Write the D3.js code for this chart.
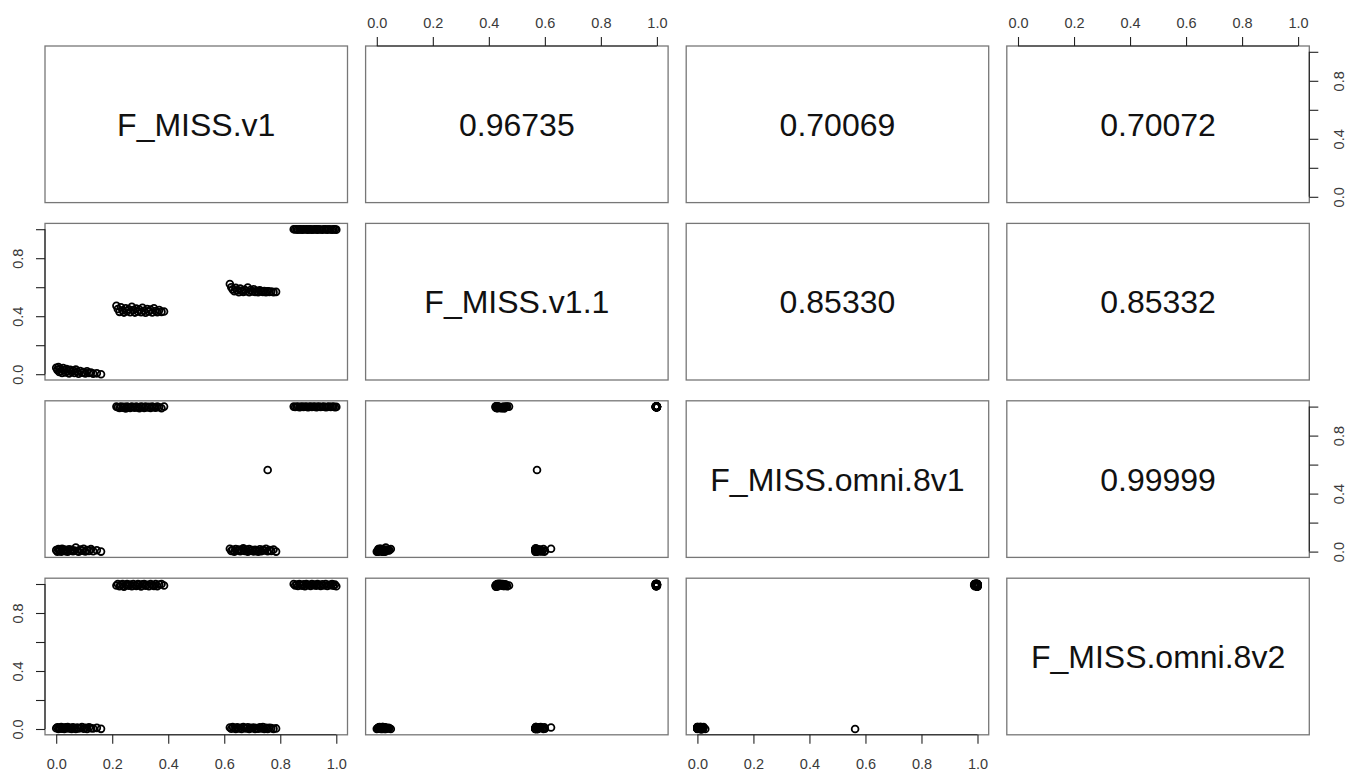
<!DOCTYPE html>
<html>
<head>
<meta charset="utf-8">
<script src="https://cdn.jsdelivr.net/npm/d3@7"></script>
<style>
  html, body { margin: 0; padding: 0; background: #fff; }
  svg { display: block; }
  text { font-family: "Liberation Sans", Arial, Helvetica, sans-serif; }
</style>
</head>
<body>
<svg id="chart" width="1359" height="775"></svg>
<script>
// Variable names shown on the diagonal
const varNames = ["F_MISS.v1", "F_MISS.v1.1", "F_MISS.omni.8v1", "F_MISS.omni.8v2"];

// Pairwise correlations printed in the upper panels: [row, col, label]
const corrCells = [
  [0, 1, "0.96735"], [0, 2, "0.70069"], [0, 3, "0.70072"],
  [1, 2, "0.85330"], [1, 3, "0.85332"],
  [2, 3, "0.99999"]
];

// Axis ticks
const tickValues = [0, 0.2, 0.4, 0.6, 0.8, 1.0];
const xTickLabels = ["0.0", "0.2", "0.4", "0.6", "0.8", "1.0"];
const yTickLabels = ["0.0", "", "0.4", "", "0.8", ""];

// Per-sample missingness for each variable (same sample order in every array)
const missV1 = [
  0.000, 0.004, 0.008, 0.011, 0.014, 0.018, 0.021, 0.025, 0.029, 0.033,
  0.037, 0.041, 0.046, 0.050, 0.055, 0.060, 0.065, 0.070, 0.075, 0.080,
  0.086, 0.092, 0.098, 0.104, 0.110, 0.117, 0.124, 0.132, 0.145, 0.160,
  0.215, 0.220, 0.226, 0.231, 0.237, 0.242, 0.248, 0.253, 0.259, 0.264,
  0.270, 0.275, 0.281, 0.286, 0.292, 0.297, 0.303, 0.308, 0.314, 0.319,
  0.325, 0.331, 0.337, 0.343, 0.349, 0.355, 0.361, 0.368, 0.376, 0.385,
  0.620, 0.625, 0.630, 0.636, 0.641, 0.646, 0.652, 0.657, 0.662, 0.668,
  0.673, 0.678, 0.684, 0.689, 0.694, 0.700, 0.705, 0.710, 0.716, 0.721,
  0.727, 0.732, 0.738, 0.743, 0.749, 0.755, 0.761, 0.768, 0.776, 0.785,
  0.848, 0.853, 0.858, 0.863, 0.868, 0.873, 0.878, 0.883, 0.888, 0.893,
  0.898, 0.903, 0.908, 0.913, 0.918, 0.923, 0.928, 0.933, 0.938, 0.944,
  0.950, 0.956, 0.962, 0.968, 0.974, 0.980, 0.985, 0.990, 0.995, 1.000,
  0.755
];
const missV11 = [
  0.045, 0.030, 0.050, 0.015, 0.038, 0.022, 0.008, 0.042, 0.028, 0.012,
  0.035, 0.020, 0.005, 0.030, 0.015, 0.025, 0.008, 0.032, 0.018, 0.003,
  0.022, 0.010, 0.015, 0.005, 0.020, 0.008, 0.012, 0.004, 0.006, 0.000,
  0.472, 0.450, 0.430, 0.462, 0.440, 0.425, 0.455, 0.435, 0.448, 0.428,
  0.465, 0.442, 0.425, 0.452, 0.432, 0.445, 0.427, 0.458, 0.438, 0.424,
  0.450, 0.433, 0.445, 0.426, 0.455, 0.436, 0.428, 0.442, 0.430, 0.432,
  0.622, 0.600, 0.585, 0.572, 0.595, 0.578, 0.566, 0.590, 0.575, 0.568,
  0.582, 0.572, 0.598, 0.566, 0.580, 0.570, 0.585, 0.568, 0.575, 0.566,
  0.578, 0.570, 0.568, 0.574, 0.566, 0.572, 0.568, 0.570, 0.566, 0.568,
  1.000, 0.998, 1.000, 0.997, 1.000, 0.999, 0.996, 1.000, 0.998, 1.000,
  0.997, 0.999, 1.000, 0.996, 0.998, 1.000, 0.999, 0.997, 1.000, 0.998,
  0.996, 1.000, 0.999, 0.997, 1.000, 0.998, 0.996, 1.000, 0.999, 0.997,
  0.572
];
const missOmni1 = [
  0.010, 0.000, 0.018, 0.005, 0.012, 0.000, 0.020, 0.008, 0.015, 0.003,
  0.010, 0.000, 0.016, 0.006, 0.012, 0.002, 0.008, 0.028, 0.004, 0.000,
  0.014, 0.007, 0.019, 0.001, 0.011, 0.005, 0.017, 0.003, 0.009, 0.000,
  1.000, 0.995, 0.990, 1.000, 0.993, 0.998, 0.988, 1.000, 0.995, 0.990,
  1.000, 0.996, 0.992, 1.000, 0.994, 0.989, 1.000, 0.997, 0.991, 1.000,
  0.994, 0.998, 0.990, 1.000, 0.996, 0.992, 1.000, 0.995, 0.989, 1.000,
  0.020, 0.005, 0.012, 0.000, 0.018, 0.008, 0.015, 0.002, 0.010, 0.022,
  0.004, 0.014, 0.000, 0.017, 0.006, 0.011, 0.001, 0.013, 0.007, 0.000,
  0.016, 0.003, 0.012, 0.008, 0.019, 0.002, 0.010, 0.005, 0.014, 0.000,
  1.000, 0.997, 0.999, 1.000, 0.996, 0.998, 1.000, 0.997, 0.999, 1.000,
  0.996, 0.998, 1.000, 0.997, 0.999, 1.000, 0.996, 0.998, 1.000, 0.997,
  0.999, 1.000, 0.996, 0.998, 1.000, 0.997, 0.999, 1.000, 0.996, 0.998,
  0.563
];
const missOmni2 = [
  0.005, 0.012, 0.000, 0.010, 0.004, 0.014, 0.002, 0.008, 0.000, 0.011,
  0.006, 0.013, 0.003, 0.009, 0.001, 0.012, 0.005, 0.000, 0.010, 0.004,
  0.007, 0.013, 0.002, 0.009, 0.000, 0.011, 0.006, 0.003, 0.008, 0.001,
  0.990, 1.000, 0.985, 0.995, 1.000, 0.982, 0.993, 1.000, 0.988, 0.997,
  0.984, 1.000, 0.991, 0.986, 1.000, 0.994, 0.983, 0.998, 1.000, 0.989,
  0.995, 0.985, 1.000, 0.992, 0.987, 0.999, 0.984, 0.996, 1.000, 0.990,
  0.010, 0.002, 0.013, 0.006, 0.000, 0.011, 0.004, 0.009, 0.000, 0.014,
  0.007, 0.003, 0.012, 0.001, 0.008, 0.005, 0.010, 0.000, 0.006, 0.002,
  0.011, 0.004, 0.013, 0.000, 0.008, 0.003, 0.009, 0.006, 0.001, 0.004,
  1.000, 0.990, 0.996, 0.986, 1.000, 0.993, 0.988, 0.998, 0.985, 1.000,
  0.992, 0.995, 0.987, 1.000, 0.991, 0.997, 0.989, 1.000, 0.994, 0.986,
  0.998, 0.990, 1.000, 0.987, 0.995, 0.992, 1.000, 0.988, 0.996, 0.985,
  0.000
];

const columns = [missV1, missV11, missOmni1, missOmni2];
const n = varNames.length;

// Panel grid geometry
const gridLeft = 45, gridTop = 46;
const panelW = 302.5, panelH = 156.6;
const colStep = 320.6, rowStep = 177.4;

const svg = d3.select("#chart");
svg.append("rect").attr("width", 1359).attr("height", 775).attr("fill", "#fff");

const x = d3.scaleLinear().domain([-0.04, 1.04]).range([0, panelW]);
const y = d3.scaleLinear().domain([-0.04, 1.04]).range([panelH, 0]);

const tickLen = 9;
const labelColor = "#3a3a3a";

function styleAxis(g, labels, orient) {
  g.select(".domain").remove();
  g.selectAll(".tick line").attr("stroke", "#222").attr("stroke-width", 1.1);
  g.selectAll(".tick text")
    .text((d, i) => labels[i])
    .attr("fill", labelColor)
    .attr("font-size", 14.5);
  // axis line only spans the first to last tick
  const isX = orient === "top" || orient === "bottom";
  const sc = isX ? x : y;
  g.append("line")
    .attr(isX ? "x1" : "y1", sc(tickValues[0]))
    .attr(isX ? "x2" : "y2", sc(tickValues[tickValues.length - 1]))
    .attr(isX ? "y1" : "x1", 0)
    .attr(isX ? "y2" : "x2", 0)
    .attr("stroke", "#222").attr("stroke-width", 1.1);
  if (orient === "top") {
    g.selectAll(".tick text").attr("y", -23).attr("dy", "0.35em");
  } else if (orient === "bottom") {
    g.selectAll(".tick text").attr("y", 29).attr("dy", "0.35em");
  } else if (orient === "left") {
    g.selectAll(".tick text")
      .attr("transform", "rotate(-90)")
      .attr("x", 0).attr("y", -27).attr("dy", "0.35em")
      .attr("text-anchor", "middle");
  } else {
    g.selectAll(".tick text")
      .attr("transform", "rotate(-90)")
      .attr("x", 0).attr("y", 30).attr("dy", "0.35em")
      .attr("text-anchor", "middle");
  }
}

for (let r = 0; r < n; r++) {
  for (let c = 0; c < n; c++) {
    const px = gridLeft + c * colStep;
    const py = gridTop + r * rowStep;
    const panel = svg.append("g").attr("transform", `translate(${px},${py})`);

    if (r > c) {
      // scatter: x from column variable, y from row variable
      const xs = columns[c], ys = columns[r];
      panel.append("g")
        .selectAll("circle")
        .data(d3.range(xs.length))
        .join("circle")
        .attr("cx", i => x(xs[i]))
        .attr("cy", i => y(ys[i]))
        .attr("r", 3.4)
        .attr("fill", "none")
        .attr("stroke", "#000")
        .attr("stroke-width", 1.8);
    } else if (r === c) {
      panel.append("text")
        .attr("x", panelW / 2).attr("y", panelH / 2)
        .attr("dy", "0.36em")
        .attr("text-anchor", "middle")
        .attr("font-size", 32)
        .attr("fill", "#111")
        .text(varNames[r]);
    } else {
      const cell = corrCells.find(d => d[0] === r && d[1] === c);
      panel.append("text")
        .attr("x", panelW / 2).attr("y", panelH / 2)
        .attr("dy", "0.36em")
        .attr("text-anchor", "middle")
        .attr("font-size", 32)
        .attr("fill", "#111")
        .text(cell ? cell[2] : "");
    }

    // panel frame
    panel.append("rect")
      .attr("x", 0).attr("y", 0)
      .attr("width", panelW).attr("height", panelH)
      .attr("fill", "none")
      .attr("stroke", "#777")
      .attr("stroke-width", 1.3);

    // alternating outer axes, as in a scatterplot matrix
    if (r === 0 && c % 2 === 1) {
      const g = panel.append("g")
        .call(d3.axisTop(x).tickValues(tickValues).tickSize(tickLen).tickSizeOuter(0));
      styleAxis(g, xTickLabels, "top");
    }
    if (r === n - 1 && c % 2 === 0) {
      const g = panel.append("g").attr("transform", `translate(0,${panelH})`)
        .call(d3.axisBottom(x).tickValues(tickValues).tickSize(tickLen).tickSizeOuter(0));
      styleAxis(g, xTickLabels, "bottom");
    }
    if (c === 0 && r % 2 === 1) {
      const g = panel.append("g")
        .call(d3.axisLeft(y).tickValues(tickValues).tickSize(tickLen).tickSizeOuter(0));
      styleAxis(g, yTickLabels, "left");
    }
    if (c === n - 1 && r % 2 === 0) {
      const g = panel.append("g").attr("transform", `translate(${panelW},0)`)
        .call(d3.axisRight(y).tickValues(tickValues).tickSize(tickLen).tickSizeOuter(0));
      styleAxis(g, yTickLabels, "right");
    }
  }
}
</script>
</body>
</html>
